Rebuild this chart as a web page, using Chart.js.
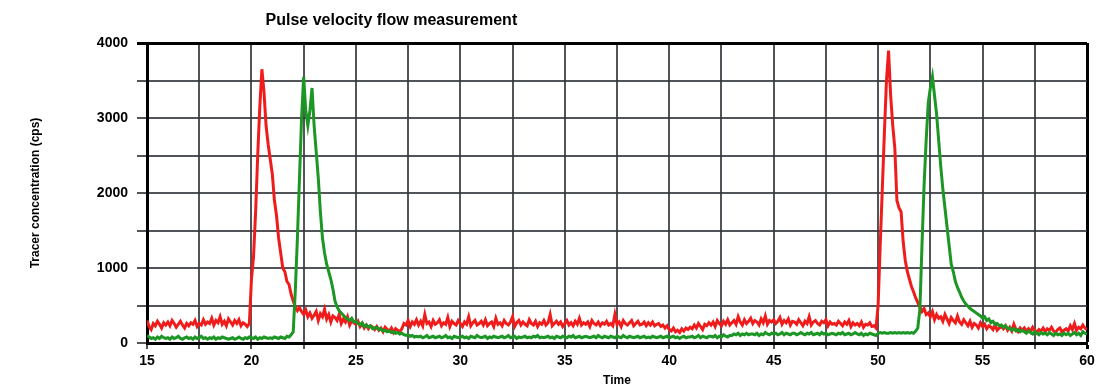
<!DOCTYPE html>
<html>
<head>
<meta charset="utf-8">
<title>Pulse velocity flow measurement</title>
<script src="https://cdn.jsdelivr.net/npm/chart.js@4/dist/chart.umd.min.js"></script>
<style>
  html, body { margin: 0; padding: 0; background: #fff; }
</style>
</head>
<body>
<canvas id="flowChart" width="1102" height="390"></canvas>
<script>
// Sampling of both traces (time axis)
const tStart = 15;
const tStep = 0.1;

// Upstream detector (red), one row per time unit, 15.0 .. 60.0
const redCps = [
  300,220,180,260,230,290,250,200,270,240, // 15
  280,230,300,260,210,250,290,240,200,260, // 16
  230,270,250,300,220,260,240,310,250,280, // 17
  260,330,240,300,270,350,250,290,230,320, // 18
  280,240,300,260,310,230,270,250,220,260, // 19
  850,1150,1750,2500,3150,3650,3350,2900,2650,2450, // 20
  2250,1900,1700,1400,1200,1000,950,820,780,650, // 21
  560,480,430,470,420,380,440,350,400,330, // 22
  370,420,300,390,350,450,320,380,280,360, // 23
  340,300,380,260,320,280,350,240,300,270, // 24
  250,290,220,260,200,240,190,230,210,180, // 25
  220,170,200,150,210,180,160,200,140,190, // 26
  170,150,190,260,240,300,220,280,250,310, // 27
  240,290,230,380,260,280,220,300,250,270, // 28
  310,230,270,250,340,220,290,260,240,300, // 29
  260,220,280,250,350,230,270,300,240,260, // 30
  290,240,310,230,260,280,220,330,250,270, // 31
  230,300,260,240,280,350,220,270,300,240, // 32
  280,250,230,310,260,240,290,220,270,250, // 33
  300,240,270,380,230,260,290,250,280,220, // 34
  260,300,240,270,230,290,250,330,240,270, // 35
  250,280,220,300,260,240,280,230,270,250, // 36
  290,240,260,230,380,250,280,220,300,260, // 37
  240,270,300,230,260,290,240,250,280,230, // 38
  270,240,280,230,250,260,220,240,200,230, // 39
  180,160,200,150,170,140,190,160,200,180, // 40
  210,190,240,200,260,220,180,250,230,270, // 41
  240,280,220,300,260,230,290,250,310,240, // 42
  270,300,250,350,280,240,310,260,290,330, // 43
  260,300,280,240,320,270,360,250,300,280, // 44
  310,260,290,340,250,300,270,320,240,290, // 45
  280,250,310,270,230,290,260,350,240,280, // 46
  300,260,240,290,270,310,230,280,250,260, // 47
  240,290,260,230,280,250,300,220,270,240, // 48
  260,230,280,210,250,240,270,220,230,200, // 49
  500,1300,2050,2800,3500,3900,3300,2900,2600,1900, // 50
  1800,1750,1350,1100,950,850,750,680,600,540, // 51
  480,420,460,380,400,350,420,310,380,330, // 52
  350,290,380,320,260,340,300,270,360,280, // 53
  250,310,270,230,290,210,260,240,200,270, // 54
  220,250,190,230,210,180,240,170,200,220, // 55
  190,230,170,210,160,250,180,150,200,170, // 56
  200,160,190,150,210,170,140,180,160,200, // 57
  150,190,170,210,160,140,180,200,150,170, // 58
  190,160,230,180,260,170,210,190,240,200, // 59
  180 // 60
];

// Downstream detector (green)
const greenCps = [
  100,80,60,70,50,80,60,90,70,60, // 15
  70,50,80,60,70,90,60,50,70,80, // 16
  60,70,50,80,60,70,90,60,70,50, // 17
  70,60,80,50,70,60,80,70,60,50, // 18
  60,70,50,60,80,60,50,70,60,80, // 19
  70,60,80,50,70,60,80,70,60,70, // 20
  60,80,70,60,80,70,60,90,80,110, // 21
  150,700,1400,2200,3000,3550,3100,2900,3100,3400, // 22
  2900,2550,2200,1750,1400,1200,1050,950,850,720, // 23
  560,480,430,400,370,340,320,300,330,280, // 24
  290,260,240,270,220,240,210,230,190,200, // 25
  210,180,190,160,170,150,160,140,150,130, // 26
  140,120,130,110,100,110,90,100,80,90, // 27
  80,90,70,80,100,70,80,90,70,80, // 28
  90,70,80,100,70,80,60,90,80,70, // 29
  80,90,70,80,60,90,80,70,100,80, // 30
  70,80,90,60,80,70,90,80,70,80, // 31
  90,70,80,100,70,80,90,60,80,70, // 32
  80,90,70,80,70,90,80,100,70,80, // 33
  70,80,90,70,80,60,90,80,70,90, // 34
  80,70,90,80,100,70,80,90,70,80, // 35
  90,80,70,80,90,70,100,80,70,90, // 36
  80,70,90,80,70,90,80,70,100,80, // 37
  70,90,80,70,80,90,70,80,90,70, // 38
  80,70,90,80,70,80,90,70,80,90, // 39
  70,80,90,70,80,60,80,90,70,80, // 40
  80,90,70,80,100,70,90,80,70,90, // 41
  90,80,100,70,90,80,110,90,80,100, // 42
  100,120,110,130,100,120,110,130,110,120, // 43
  120,110,130,100,120,110,140,120,110,130, // 44
  120,130,110,120,140,110,130,120,110,130, // 45
  130,110,120,140,120,110,130,120,140,110, // 46
  120,130,110,140,120,130,110,120,130,120, // 47
  110,130,120,140,110,120,130,110,120,140, // 48
  120,110,130,100,120,110,130,120,110,100, // 49
  130,140,130,140,130,130,140,130,140,130, // 50
  140,130,140,130,140,130,140,130,160,200, // 51
  450,1300,2100,2700,3200,3400,3550,3300,3050,2700, // 52
  2350,2050,1800,1550,1300,1050,950,820,740,680, // 53
  610,560,520,490,460,440,420,400,380,360, // 54
  330,350,300,320,270,290,250,260,230,240, // 55
  210,230,190,200,170,190,160,180,150,170, // 56
  150,130,160,140,120,150,130,110,140,120, // 57
  130,110,140,120,100,130,110,120,100,130, // 58
  110,130,100,120,140,110,130,100,150,130, // 59
  120 // 60
];

const times = redCps.map((_, i) => +(tStart + i * tStep).toFixed(1));

const toPoints = values => values.map((v, i) => ({ x: times[i], y: v }));

const titleFont = "'Liberation Sans', Arial, sans-serif";

// Title sits left of centre in the original, so draw it by hand
const chartTitle = {
  id: 'chartTitle',
  afterDraw(chart) {
    const { ctx, chartArea } = chart;
    ctx.save();
    ctx.font = `bold 16px ${titleFont}`;
    ctx.fillStyle = '#000';
    ctx.textAlign = 'center';
    ctx.textBaseline = 'middle';
    ctx.fillText('Pulse velocity flow measurement',
      chartArea.left + (chartArea.right - chartArea.left) * 0.26, 21);
    ctx.restore();
  }
};

const gridColor = 'rgba(50, 55, 60, 0.85)';

new Chart(document.getElementById('flowChart'), {
  type: 'line',
  data: {
    datasets: [
      {
        label: 'Downstream',
        data: toPoints(greenCps),
        borderColor: 'rgb(28, 150, 36)',
        borderWidth: 3,
        pointRadius: 0,
        tension: 0
      },
      {
        label: 'Upstream',
        data: toPoints(redCps),
        borderColor: 'rgb(240, 28, 28)',
        borderWidth: 3,
        pointRadius: 0,
        tension: 0
      }
    ]
  },
  options: {
    responsive: false,
    animation: false,
    layout: {
      padding: { left: 28, right: 15, top: 43, bottom: 0 }
    },
    plugins: {
      legend: { display: false },
      title: { display: false },
      tooltip: { enabled: false }
    },
    scales: {
      x: {
        type: 'linear',
        min: 15,
        max: 60,
        afterFit(scale) { scale.height = 47; },
        ticks: {
          stepSize: 2.5,
          autoSkip: false,
          maxRotation: 0,
          padding: 4,
          color: '#000',
          font: { family: titleFont, size: 14, weight: 'bold' },
          callback: v => (v % 5 === 0 ? v : '')
        },
        grid: {
          color: ctx => (ctx.tick && ctx.tick.value === 60 ? '#000' : gridColor),
          lineWidth: ctx => (ctx.tick && ctx.tick.value === 60 ? 3 : 2),
          tickLength: 6
        },
        border: { color: '#000', width: 3 },
        title: {
          display: true,
          text: 'Time',
          color: '#000',
          font: { family: titleFont, size: 12, weight: 'bold' },
          padding: { top: 0, bottom: 2 }
        }
      },
      y: {
        min: 0,
        max: 4000,
        afterFit(scale) { scale.width = 119; },
        ticks: {
          stepSize: 500,
          autoSkip: false,
          padding: 9,
          color: '#000',
          font: { family: titleFont, size: 14, weight: 'bold' },
          callback: v => (v % 1000 === 0 ? v : '')
        },
        grid: {
          color: ctx => (ctx.tick && ctx.tick.value === 4000 ? '#000' : gridColor),
          lineWidth: ctx => (ctx.tick && ctx.tick.value === 4000 ? 3 : 2),
          tickLength: 10
        },
        border: { color: '#000', width: 3 },
        title: {
          display: true,
          text: 'Tracer concentration (cps)',
          color: '#000',
          font: { family: titleFont, size: 12, weight: 'bold' },
          padding: { top: 0, bottom: 0 }
        }
      }
    }
  },
  plugins: [chartTitle]
});
</script>
</body>
</html>
